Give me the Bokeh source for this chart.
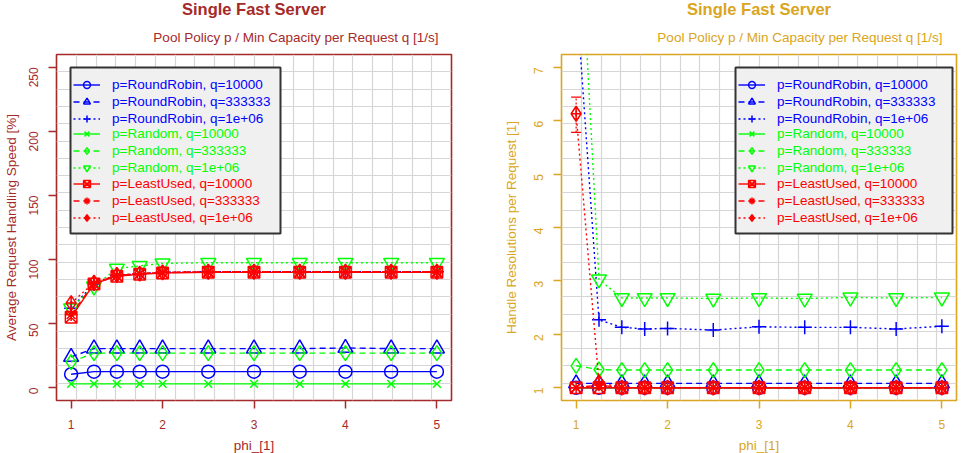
import math

from bokeh.embed import file_html
from bokeh.layouts import row
from bokeh.models import (BoxAnnotation, ColumnDataSource, FixedTicker, Legend,
                          LegendItem, Range1d, TeeHead, Title, Whisker)
from bokeh.plotting import figure
from bokeh.resources import INLINE

# ---------------------------------------------------------------- data
phi = [1, 1.25, 1.5, 1.75, 2, 2.5, 3, 3.5, 4, 4.5, 5]
x_ticks = [1, 2, 3, 4, 5]
x_tick_labels = ["1", "2", "3", "4", "5"]

series_labels = [
    "p=RoundRobin, q=10000", "p=RoundRobin, q=333333", "p=RoundRobin, q=1e+06",
    "p=Random, q=10000", "p=Random, q=333333", "p=Random, q=1e+06",
    "p=LeastUsed, q=10000", "p=LeastUsed, q=333333", "p=LeastUsed, q=1e+06",
]

# Average request handling speed [%]
speed_rr_10000 = [10.5, 12.5, 12.5, 12.5, 12.5, 12.5, 12.5, 12.5, 12.5, 12.5, 12.5]
speed_rr_333333 = [24.0, 30.5, 30.5, 30.5, 30.5, 30.5, 30.5, 30.5, 31.0, 30.5, 30.5]
speed_rr_1e06 = [62.0, 81.0, 87.5, 89.0, 90.0, 90.5, 90.5, 90.5, 90.5, 90.5, 90.5]
speed_rnd_10000 = [3.0, 3.0, 3.0, 3.0, 3.0, 3.0, 3.0, 3.0, 3.0, 3.0, 3.0]
speed_rnd_333333 = [20.0, 27.0, 27.0, 27.0, 27.0, 27.0, 27.0, 27.0, 27.0, 27.0, 27.0]
speed_rnd_1e06 = [62.0, 79.0, 93.0, 95.0, 97.0, 97.5, 97.5, 97.5, 97.5, 97.5, 97.5]
speed_lu_10000 = [55.0, 81.0, 87.0, 88.5, 89.5, 90.0, 90.0, 90.0, 90.0, 90.0, 90.0]
speed_lu_333333 = [57.0, 81.5, 87.5, 89.0, 90.0, 90.5, 90.5, 90.5, 90.5, 90.5, 90.5]
speed_lu_1e06 = [66.0, 82.0, 88.0, 89.0, 90.0, 90.5, 90.5, 90.5, 90.5, 90.5, 90.5]

# Handle resolutions per request [1]
hres_rr_10000 = [1.0, 1.0, 1.0, 1.0, 1.0, 1.0, 1.0, 1.0, 1.0, 1.0, 1.0]
hres_rr_333333 = [1.08, 1.08, 1.08, 1.08, 1.08, 1.08, 1.08, 1.08, 1.08, 1.08, 1.08]
hres_rr_1e06 = [8.4, 2.27, 2.13, 2.10, 2.11, 2.08, 2.14, 2.13, 2.13, 2.10, 2.15]
hres_rnd_10000 = [1.0, 1.0, 1.0, 1.0, 1.0, 1.0, 1.0, 1.0, 1.0, 1.0, 1.0]
hres_rnd_333333 = [1.41, 1.34, 1.33, 1.33, 1.33, 1.33, 1.33, 1.33, 1.33, 1.33, 1.33]
hres_rnd_1e06 = [11.1, 3.03, 2.68, 2.68, 2.68, 2.67, 2.68, 2.67, 2.69, 2.68, 2.69]
hres_lu_10000 = [1.0, 1.0, 1.0, 1.0, 1.0, 1.0, 1.0, 1.0, 1.0, 1.0, 1.0]
hres_lu_333333 = [1.0, 1.05, 1.0, 1.0, 1.0, 1.0, 1.0, 1.0, 1.0, 1.0, 1.0]
hres_lu_1e06 = [6.13, 1.1, 1.0, 1.0, 1.0, 1.0, 1.0, 1.0, 1.0, 1.0, 1.0]
# confidence interval of the LeastUsed / 1e+06 run at phi = 1
hres_lu_1e06_ci_x = [1]
hres_lu_1e06_ci_lo = [5.78]
hres_lu_1e06_ci_hi = [6.44]

speed_ticks = [0, 50, 100, 150, 200, 250]
hres_ticks = [1, 2, 3, 4, 5, 6, 7]

TITLE = "Single Fast Server"
SUBTITLE = "Pool Policy p / Min Capacity per Request q [1/s]"

# ---------------------------------------------------------------- styling
FONT = "Liberation Sans"
BLUE, GREEN, RED = "#0000ff", "#00ff00", "#ff0000"
series_colors = [BLUE, BLUE, BLUE, GREEN, GREEN, GREEN, RED, RED, RED]
series_markers = ["circle", "triangle", "cross", "x", "diamond",
                  "inverted_triangle", "square_x", "asterisk", "diamond_cross"]
marker_sizes = [13, 15, 14, 11, 15, 15, 11.5, 12.5, 15]
series_dash = ["solid", "6 4", "2 3"] * 3

FRAME_W, FRAME_H = 395, 346
X_RANGE = (0.84, 5.16)
ROW_H = 16.6          # legend row pitch
LEG_ROWS_H = 3 * 17   # height of one 3-row legend block


def make_panel(values, y_range, y_ticks, y_label, accent, border_left,
               border_right, legend_left, legend_box_w, sub_offset,
               ylabel_standoff):
    x0, x1 = X_RANGE
    y0, y1 = y_range
    sx = (x1 - x0) / FRAME_W   # data units per pixel
    sy = (y1 - y0) / FRAME_H
    p = figure(frame_width=FRAME_W, frame_height=FRAME_H,
               x_range=Range1d(x0, x1), y_range=Range1d(y0, y1),
               output_backend="svg", toolbar_location=None, title=None,
               min_border_left=border_left, min_border_right=border_right,
               min_border_top=54, min_border_bottom=53,
               background_fill_color="white", border_fill_color="white")

    # frame and axes
    p.outline_line_color = accent
    p.outline_line_width = 1.6
    p.outline_line_alpha = 1.0
    p.xaxis.ticker = FixedTicker(ticks=x_ticks)
    p.xaxis.major_label_overrides = {t: s for t, s in zip(x_ticks, x_tick_labels)}
    p.yaxis.ticker = FixedTicker(ticks=y_ticks)
    p.yaxis.major_label_orientation = math.pi / 2
    p.xaxis.axis_label = "phi_[1]"
    p.yaxis.axis_label = y_label
    for ax in (p.xaxis, p.yaxis):
        ax.axis_line_color = None
        ax.major_tick_line_color = accent
        ax.major_tick_line_width = 1.5
        ax.major_tick_out = 8
        ax.major_tick_in = 0
        ax.minor_tick_line_color = None
        ax.major_label_text_color = accent
        ax.major_label_text_font = FONT
        ax.major_label_text_font_size = "12px"
        ax.axis_label_text_color = accent
        ax.axis_label_text_font = FONT
        ax.axis_label_text_font_style = "normal"
        ax.axis_label_text_font_size = "13.5px"
    p.xaxis.major_label_standoff = 11
    p.xaxis.axis_label_standoff = 6
    p.yaxis.major_label_standoff = 15
    p.yaxis.axis_label_standoff = ylabel_standoff

    # light 20 x 20 grid over the whole plotting region
    p.xgrid.ticker = FixedTicker(ticks=[x0 + k * (x1 - x0) / 20 for k in range(1, 20)])
    p.ygrid.ticker = FixedTicker(ticks=[y0 + k * (y1 - y0) / 20 for k in range(1, 20)])
    for g in (p.xgrid, p.ygrid):
        g.grid_line_color = "#d6d6d6"
        g.grid_line_width = 1.2

    # titles: sub-title next to the frame, main title above it
    p.add_layout(Title(text=SUBTITLE, align="right", offset=sub_offset,
                       vertical_align="bottom", standoff=20,
                       text_color=accent, text_font=FONT,
                       text_font_style="normal", text_font_size="13.5px"),
                 "above")
    p.add_layout(Title(text=TITLE, align="center", vertical_align="top",
                       standoff=-5, text_color=accent, text_font=FONT,
                       text_font_style="bold", text_font_size="16.5px"),
                 "above")

    # series
    items = []
    for label, ys, color, marker, msize, dash in zip(
            series_labels, values, series_colors, series_markers,
            marker_sizes, series_dash):
        src = ColumnDataSource(dict(x=phi, y=ys))
        lr = p.line("x", "y", source=src, line_color=color, line_width=1.4,
                    line_dash=dash)
        sr = p.scatter("x", "y", source=src, marker=marker, size=msize,
                       line_color=color, line_width=1.5, fill_color=None)
        items.append(LegendItem(label=label, renderers=[lr, sr]))

    # legend box
    bl, br, bt, bb = legend_left - 3, legend_left - 3 + legend_box_w, 13, 179
    p.add_layout(BoxAnnotation(left=x0 + bl * sx, right=x0 + br * sx,
                               top=y1 - bt * sy, bottom=y1 - bb * sy,
                               fill_color="#f0f0f0", fill_alpha=1.0,
                               line_color="#333333", line_width=2,
                               line_alpha=1.0, level="annotation"))

    # one legend block per policy, so each block keeps its own text colour
    for g, color in enumerate([BLUE, GREEN, RED]):
        top = 30 + 3 * g * ROW_H - 8.5
        leg = Legend(items=items[3 * g:3 * g + 3],
                     location=(legend_left, FRAME_H - top - LEG_ROWS_H),
                     padding=0, spacing=0, margin=0,
                     glyph_width=27, glyph_height=17, label_height=17,
                     label_standoff=12,
                     label_text_font=FONT, label_text_font_size="13.5px",
                     label_text_color=color,
                     background_fill_alpha=0, border_line_alpha=0)
        p.add_layout(leg)
    return p


left = make_panel(
    [speed_rr_10000, speed_rr_333333, speed_rr_1e06,
     speed_rnd_10000, speed_rnd_333333, speed_rnd_1e06,
     speed_lu_10000, speed_lu_333333, speed_lu_1e06],
    (-10, 260), speed_ticks, "Average Request Handling Speed [%]",
    "#a52a2a", 56, 32, 17, 210, 13, 3)

right = make_panel(
    [hres_rr_10000, hres_rr_333333, hres_rr_1e06,
     hres_rnd_10000, hres_rnd_333333, hres_rnd_1e06,
     hres_lu_10000, hres_lu_333333, hres_lu_1e06],
    (0.76, 7.24), hres_ticks, "Handle Resolutions per Request [1]",
    "#daa520", 78, 10, 177, 217, 14, 8)

ci = ColumnDataSource(dict(x=hres_lu_1e06_ci_x, lo=hres_lu_1e06_ci_lo,
                           hi=hres_lu_1e06_ci_hi))
right.add_layout(Whisker(source=ci, base="x", lower="lo", upper="hi",
                         line_color=RED, line_width=1.2, line_dash="2 2",
                         upper_head=TeeHead(size=10, line_color=RED, line_width=1.2),
                         lower_head=TeeHead(size=10, line_color=RED, line_width=1.2)))

layout = row(left, right)
open("out.html", "w").write(file_html(layout, INLINE))
